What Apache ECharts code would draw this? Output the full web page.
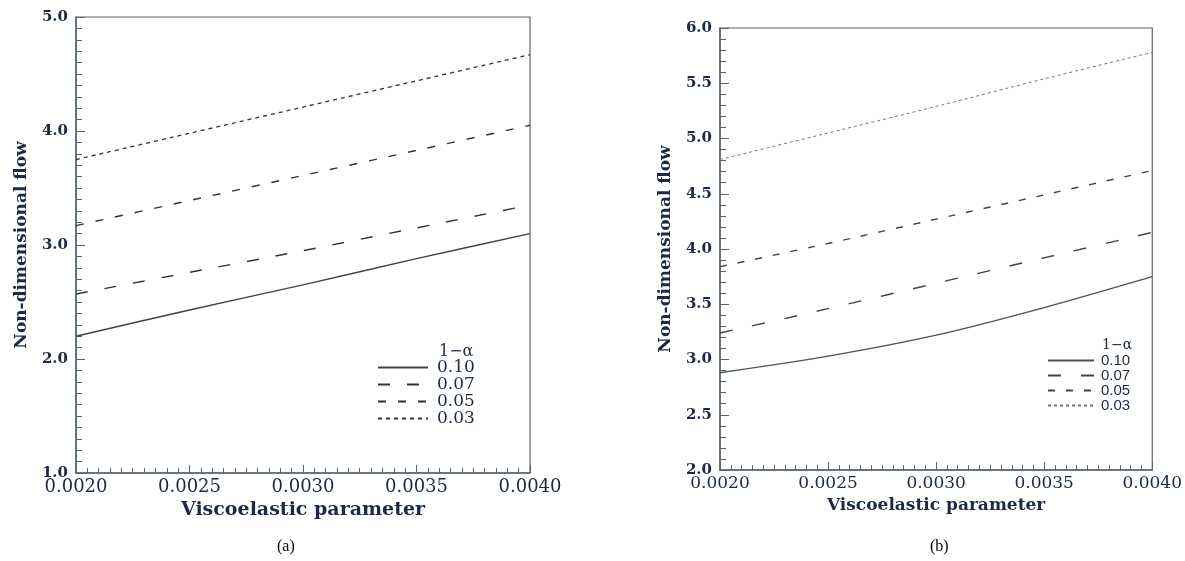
<!DOCTYPE html>
<html>
<head>
<meta charset="utf-8">
<script src="https://cdn.jsdelivr.net/npm/echarts@6/dist/echarts.min.js"></script>
<style>
  html, body { margin: 0; padding: 0; background: #fff; }
  #main { width: 1185px; height: 561px; }
</style>
</head>
<body>
<div id="main"></div>
<script>
// viscoelastic parameter values (x)
var xValues = [0.0020, 0.0025, 0.0030, 0.0035, 0.0040];
var seriesNames = ["0.10", "0.07", "0.05", "0.03"];

// panel (a)
var flowA_010 = [2.20, 2.43, 2.65, 2.88, 3.10];
var flowA_007 = [2.57, 2.76, 2.95, 3.15, 3.35];
var flowA_005 = [3.17, 3.39, 3.61, 3.83, 4.05];
var flowA_003 = [3.75, 3.98, 4.21, 4.44, 4.67];

// panel (b)
var flowB_010 = [2.88, 3.03, 3.22, 3.47, 3.75];
var flowB_007 = [3.24, 3.46, 3.69, 3.92, 4.15];
var flowB_005 = [3.84, 4.05, 4.27, 4.49, 4.71];
var flowB_003 = [4.81, 5.05, 5.29, 5.54, 5.78];

var axisColor = "#55666c";
var textColor = "#1c2a44";
var serif = "DejaVu Serif";

function pairs(ys) {
  return xValues.map(function (x, i) { return [x, ys[i]]; });
}

function xAxis(idx, labelSize, nameSize, nameGap) {
  return {
    type: "value", gridIndex: idx, min: 0.002, max: 0.004, interval: 0.0005,
    name: "Viscoelastic parameter", nameLocation: "middle", nameGap: nameGap,
    nameTextStyle: { fontFamily: serif, fontSize: nameSize, fontWeight: "bold", color: textColor },
    axisLine: { lineStyle: { color: axisColor, width: 1.5 } },
    axisTick: { inside: true, length: 8, lineStyle: { color: axisColor } },
    minorTick: { show: true, splitNumber: 10, length: 5, lineStyle: { color: axisColor } },
    splitLine: { show: false },
    axisLabel: {
      fontFamily: serif, fontSize: labelSize, color: textColor, margin: 5,
      formatter: function (v) { return v.toFixed(4); }
    }
  };
}

function yAxis(idx, min, max, interval, split) {
  return {
    type: "value", gridIndex: idx, min: min, max: max, interval: interval,
    name: "Non-dimensional flow", nameLocation: "middle", nameGap: 46,
    nameTextStyle: { fontFamily: serif, fontSize: 17, fontWeight: "bold", color: textColor },
    axisLine: { show: true, lineStyle: { color: axisColor, width: 1.5 } },
    axisTick: { inside: true, length: 9, lineStyle: { color: axisColor } },
    minorTick: { show: true, splitNumber: split, length: 6, lineStyle: { color: axisColor } },
    splitLine: { show: false },
    axisLabel: {
      fontFamily: serif, fontSize: 15, fontWeight: "bold", color: textColor, margin: 8,
      formatter: function (v) { return v.toFixed(1); }
    }
  };
}

function line(name, idx, ys, dash, color, width) {
  return {
    name: name, type: "line", xAxisIndex: idx, yAxisIndex: idx,
    data: pairs(ys), symbol: "none", showSymbol: false, smooth: 0.3,
    lineStyle: { color: color, width: width, type: dash },
    itemStyle: { color: color },
    silent: true, animation: false
  };
}

var hiddenDot = { color: "rgba(0,0,0,0)", borderColor: "rgba(0,0,0,0)", borderWidth: 0 };

var chart = echarts.init(document.getElementById("main"));
chart.setOption({
  backgroundColor: "#fff",
  animation: false,
  grid: [
    { left: 76, top: 17, width: 454, height: 456, show: true, borderColor: axisColor, borderWidth: 1.2 },
    { left: 720, top: 28, width: 436, height: 442, show: true, borderColor: axisColor, borderWidth: 1.2 }
  ],
  xAxis: [xAxis(0, 18, 19, 26), xAxis(1, 17, 17, 23)],
  yAxis: [yAxis(0, 1, 5, 1, 10), yAxis(1, 2, 6, 0.5, 5)],
  legend: [
    {
      data: ["a 0.10", "a 0.07", "a 0.05", "a 0.03"],
      orient: "vertical", left: 372, top: 354, itemWidth: 50, itemHeight: 14, itemGap: 0,
      selectedMode: false, itemStyle: hiddenDot,
      formatter: function (n) { return n.slice(2); },
      textStyle: { fontFamily: serif, fontSize: 17, lineHeight: 16, color: textColor, padding: [0, 0, 0, 4] }
    },
    {
      data: ["b 0.10", "b 0.07", "b 0.05", "b 0.03"],
      orient: "vertical", left: 1042, top: 348, itemWidth: 46, itemHeight: 13, itemGap: 0,
      selectedMode: false, itemStyle: hiddenDot,
      formatter: function (n) { return n.slice(2); },
      textStyle: { fontFamily: "Liberation Sans", fontSize: 15, lineHeight: 13, color: textColor, padding: [0, 0, 0, 2] }
    }
  ],
  title: [
    { text: "(a)", left: 272, top: 534, textStyle: { fontFamily: "Liberation Serif", fontSize: 16, fontWeight: "normal", color: "#000" } },
    { text: "(b)", left: 925, top: 534, textStyle: { fontFamily: "Liberation Serif", fontSize: 16, fontWeight: "normal", color: "#000" } },
    { text: "1\u2212\u03b1", left: 434, top: 339, textStyle: { fontFamily: serif, fontSize: 16, fontWeight: "normal", color: textColor } },
    { text: "1\u2212\u03b1", left: 1097, top: 333, textStyle: { fontFamily: serif, fontSize: 14, fontWeight: "normal", color: textColor } }
  ],
  series: [
    line("a 0.10", 0, flowA_010, "solid", "#3a4548", 1.4),
    line("a 0.07", 0, flowA_007, [12, 17], "#333", 1.4),
    line("a 0.05", 0, flowA_005, [8, 12], "#333", 1.4),
    line("a 0.03", 0, flowA_003, [4, 4], "#333", 1.3),
    line("b 0.10", 1, flowB_010, "solid", "#4a5558", 1.3),
    line("b 0.07", 1, flowB_007, [13, 20], "#444", 1.4),
    line("b 0.05", 1, flowB_005, [7, 11], "#444", 1.4),
    line("b 0.03", 1, flowB_003, [3, 3], "#777", 1.0)
  ]
});
</script>
</body>
</html>
